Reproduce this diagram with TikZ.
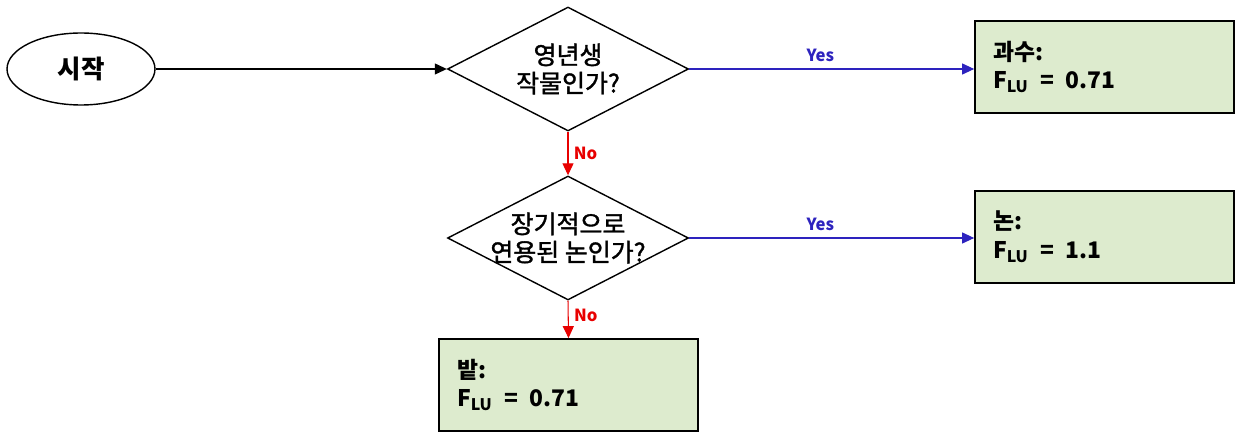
\documentclass[tikz,border=0pt]{standalone}
\usepackage{fontspec}
\setmainfont{Noto Sans CJK KR}
\newfontfamily\diafont[FakeBold=1.4]{Noto Sans CJK KR}
\usetikzlibrary{shapes.geometric,arrows.meta}

\definecolor{boxgreen}{RGB}{221,235,206}
\definecolor{yesblue}{RGB}{45,35,190}
\definecolor{nored}{RGB}{232,0,0}

\tikzset{
    startnode/.style={ellipse, draw, line width=0.8pt, minimum width=2.96cm, minimum height=1.44cm,
        inner sep=0pt, font=\fontsize{14.5}{17}\selectfont\bfseries},
    decision/.style={diamond, draw, line width=0.8pt, shape aspect=2, minimum width=4.82cm,
        minimum height=2.48cm, inner sep=-6pt, align=center, font=\diafont\fontsize{14.2}{16}\selectfont},
    result/.style={rectangle, draw, line width=1pt, fill=boxgreen, minimum width=5.18cm,
        minimum height=1.84cm, inner xsep=0.36cm, text width=4.46cm, align=left,
        font=\fontsize{13}{16}\selectfont\bfseries},
    flow/.style={line width=0.6pt, -{Triangle[length=2.4mm, width=2.2mm]}},
    answer/.style={font=\fontsize{9.5}{11}\selectfont\bfseries, inner sep=1pt}
}

\begin{document}
\begin{tikzpicture}[x=0.02cm, y=-0.02cm]
    \path[use as bounding box] (0,0) rectangle (1236,432);

    \node[startnode] (start)     at (81,69)    {시작};
    \node[decision]  (perennial) at (568,69)   {영년생\\작물인가?};
    \node[decision]  (paddy)     at (568,238)  {장기적으로\\연용된 논인가?};

    \node[result] (orchard) at (1104.5,67)  {과수:\\F\textsubscript{LU} \,=\, 0.71};
    \node[result] (rice)    at (1104.5,237) {논:\\F\textsubscript{LU} \,=\, 1.1};
    \node[result] (upland)  at (568.5,385)  {밭:\\F\textsubscript{LU} \,=\, 0.71};

    \draw[flow] (start.east) -- (perennial.west);

    % yes branches
    \draw[flow, yesblue] (perennial.east) -- (perennial.east -| orchard.west)
        node[answer, pos=0.46, above=3pt] (yestop) {Yes};
    \draw[flow, yesblue] (paddy.east) -- (paddy.east -| rice.west)
        node[answer, pos=0.46, above=3pt] (yesmid) {Yes};

    % no branches
    \draw[flow, nored] (perennial.south) -- (paddy.north)
        node[answer, midway, anchor=west, xshift=2pt] (notop) {No};
    \draw[flow, nored] (paddy.south) -- (upland.north)
        node[answer, pos=0.4, anchor=west, xshift=2pt] (nomid) {No};
\end{tikzpicture}
\end{document}
